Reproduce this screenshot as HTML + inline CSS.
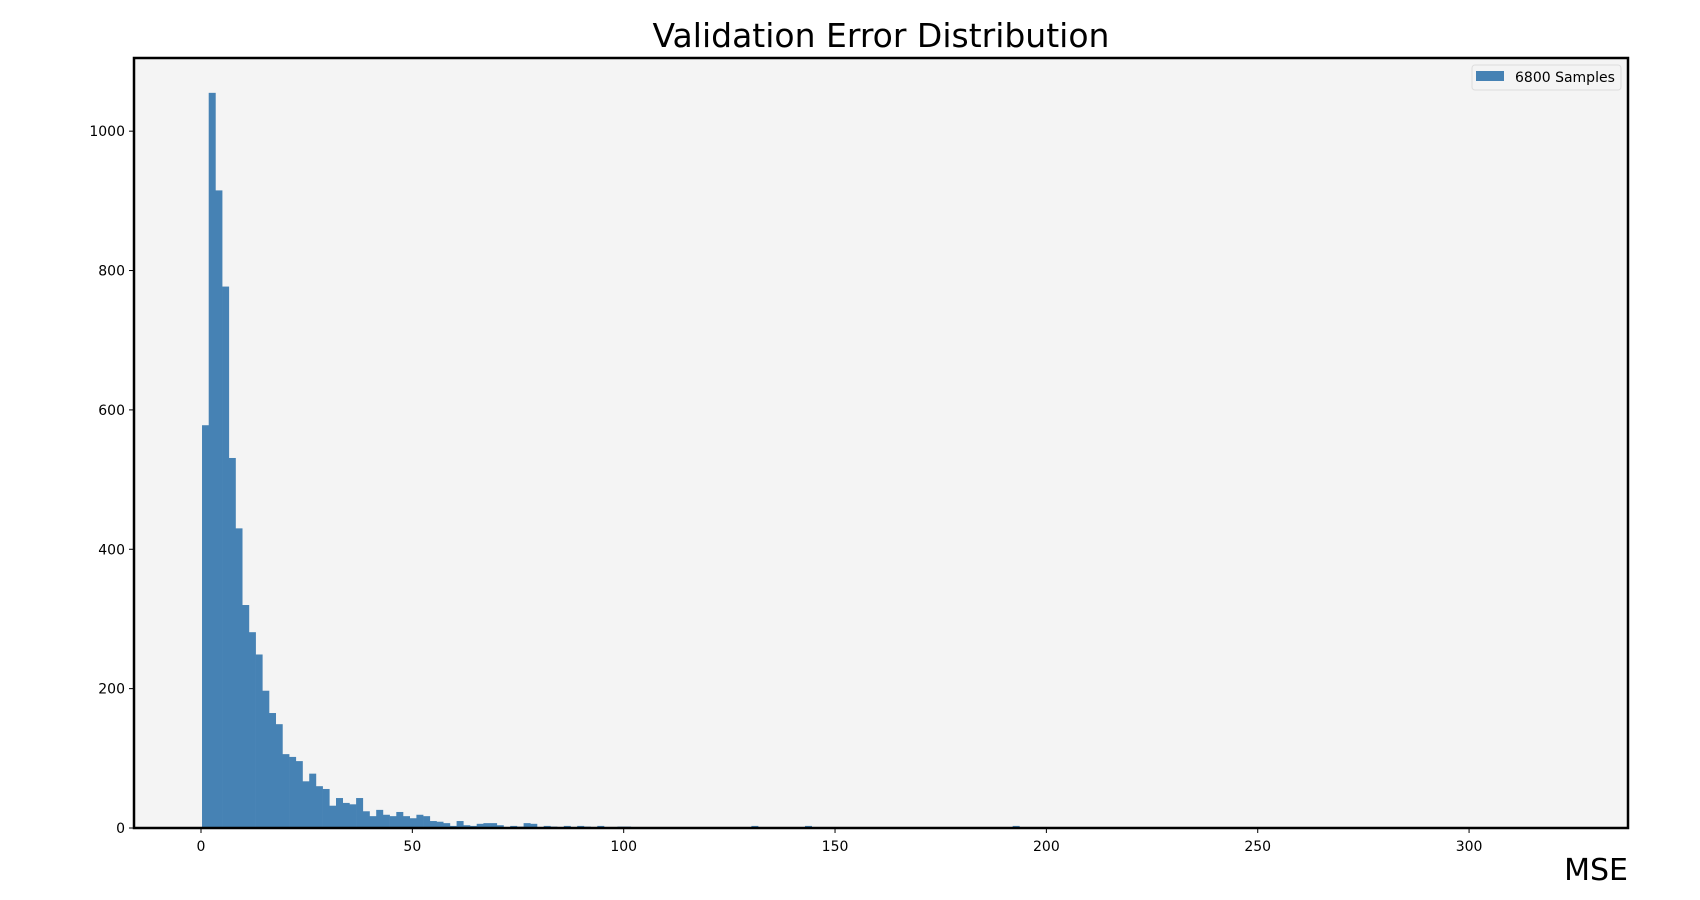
<!DOCTYPE html>
<html><head><meta charset="utf-8"><style>
html,body{margin:0;padding:0;background:#fff;}
svg{display:block;font-family:"DejaVu Sans","Liberation Sans",sans-serif;}
</style></head><body>
<svg id="chart" width="1700" height="900" viewBox="0 0 1700 900" xmlns="http://www.w3.org/2000/svg">
<rect x="134" y="58" width="1494" height="770" fill="#f4f4f4"/>
<g id="bars"></g>
<g id="xticks"></g>
<g id="yticks"></g>
<rect x="134" y="58" width="1494" height="770" fill="none" stroke="#000" stroke-width="2.5"/>
<text x="881" y="47" font-size="33" text-anchor="middle" fill="#000">Validation Error Distribution</text>
<text x="1628" y="880" font-size="30" text-anchor="end" fill="#000">MSE</text>
<g>
<rect x="1472" y="65" width="149" height="25" rx="3" fill="#f4f4f4" stroke="#dddddd" stroke-width="1"/>
<rect x="1476" y="71" width="28" height="10" fill="#4682b4"/>
<text x="1515" y="82" font-size="14" fill="#000">6800 Samples</text>
</g>
</svg>
<script>
const binStart = 0.24;
const binWidth = 1.585;
const counts = [578,1055,915,777,531,430,320,281,249,197,
165,149,106,102,96,67,78,60,56,32,
43,36,34,43,24,17,26,19,17,23,
17,14,19,17,10,9,7,3,10,4,
3,6,7,7,4,0,3,2,7,6,
0,3,2,0,3,0,3,2,0,3,
0,0,2,2,1,0,1,0,0,0,
0,0,0,0,0,0,0,0,0,0,
0,0,3,0,0,0,0,0,0,0,
3,0,0,0,0,0,0,0,0,0,
0,0,0,0,0,0,0,0,0,0,
0,0,0,0,0,0,0,0,0,0,
0,3];
const xTicks = [0,50,100,150,200,250,300];
const yTicks = [0,200,400,600,800,1000];
const xMin = -15.85, xMax = 337.6, yMin = 0, yMax = 1105;
const L = 134, R = 1628, T = 58, B = 828;
const NS = "http://www.w3.org/2000/svg";
function sx(v){return L + (v - xMin) / (xMax - xMin) * (R - L);}
function sy(v){return B - (v - yMin) / (yMax - yMin) * (B - T);}
const bars = document.getElementById('bars');
counts.forEach((c,i)=>{
  if(c<=0) return;
  const x0 = sx(binStart + i*binWidth), x1 = sx(binStart + (i+1)*binWidth);
  const r = document.createElementNS(NS,'rect');
  r.setAttribute('x', x0); r.setAttribute('width', x1 - x0 + 0.3);
  r.setAttribute('y', sy(c)); r.setAttribute('height', sy(0) - sy(c));
  r.setAttribute('fill', '#4682b4');
  
  
  bars.appendChild(r);
});
const xg = document.getElementById('xticks');
xTicks.forEach(v=>{
  const x = sx(v);
  const l = document.createElementNS(NS,'line');
  l.setAttribute('x1',x); l.setAttribute('x2',x); l.setAttribute('y1',B); l.setAttribute('y2',B+5);
  l.setAttribute('stroke','#000'); l.setAttribute('stroke-width','1');
  
  
  xg.appendChild(l);
  const t = document.createElementNS(NS,'text');
  t.setAttribute('x',x); t.setAttribute('y',B+23); t.setAttribute('font-size','14'); t.setAttribute('text-anchor','middle');
  t.textContent = v;
  
  
  xg.appendChild(t);
});
const yg = document.getElementById('yticks');
yTicks.forEach(v=>{
  const y = sy(v);
  const l = document.createElementNS(NS,'line');
  l.setAttribute('x1',L-5); l.setAttribute('x2',L); l.setAttribute('y1',y); l.setAttribute('y2',y);
  l.setAttribute('stroke','#000'); l.setAttribute('stroke-width','1');
  
  
  yg.appendChild(l);
  const t = document.createElementNS(NS,'text');
  t.setAttribute('x',L-9); t.setAttribute('y',y+5); t.setAttribute('font-size','14'); t.setAttribute('text-anchor','end');
  t.textContent = v;
  
  
  yg.appendChild(t);
});
</script>
</body></html>
